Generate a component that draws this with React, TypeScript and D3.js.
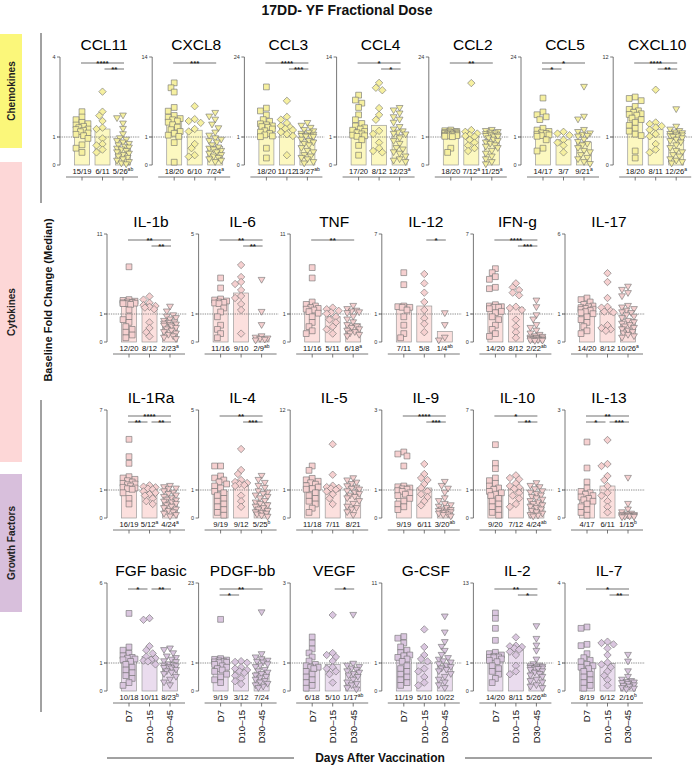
import React from "react";
import * as d3 from "d3";

// ---------- DATA ----------
const GROUPS = ["D7", "D10–15", "D30–45"];

// Chemokines
const ccl11_d7 = [1.95,1.75,1.65,1.55,1.5,1.45,1.4,1.35,1.3,1.28,1.25,1.2,1.15,1.1,1.05,0.95,0.72,0.6,0.45];
const ccl11_d10 = [2.7,1.95,1.8,1.6,1.35,1.3,0.95,0.75,0.7,0.55,0.45];
const ccl11_d30 = [1.8,1.7,1.5,1.3,1.1,0.95,0.9,0.85,0.8,0.75,0.7,0.65,0.62,0.58,0.55,0.5,0.45,0.4,0.35,0.3,0.25,0.2,0.15,0.1,0.05,0.02];
const ccl11_labels = ["15/19", "6/11", "5/26^ab"];

const cxcl8_d7 = [9.8,9.0,8.3,5.8,5.2,4.5,4.2,4.0,3.8,3.6,3.4,3.0,2.6,2.2,1.9,1.6,1.3,1.1,0.8,0.1];
const cxcl8_d10 = [6.0,3.9,3.6,3.3,2.3,1.9,0.75,0.6,0.35,0.3];
const cxcl8_d30 = [4.9,4.3,3.8,3.0,2.4,1.7,1.2,0.95,0.9,0.85,0.8,0.7,0.62,0.58,0.55,0.5,0.45,0.4,0.35,0.3,0.25,0.2,0.15,0.1];
const cxcl8_labels = ["18/20", "6/10", "7/24^a"];

const ccl3_d7 = [15.4,9.3,8.5,7.3,6.0,5.5,4.8,4.5,4.2,4.0,3.8,3.3,2.8,2.4,2.0,1.6,1.3,1.1,0.6,0.25];
const ccl3_d10 = [11.4,6.8,6.0,5.0,4.2,3.8,3.4,3.0,2.4,1.8,1.3,0.35];
const ccl3_d30 = [5.0,4.2,3.6,3.0,2.6,2.2,1.9,1.6,1.4,1.25,1.15,1.08,1.02,0.9,0.85,0.8,0.75,0.7,0.6,0.5,0.45,0.35,0.3,0.25,0.2,0.1,0.05];
const ccl3_labels = ["18/20", "11/12", "13/27^ab"];

const ccl4_d7 = [7.8,7.0,6.5,5.8,4.6,3.8,3.2,2.8,2.5,2.3,2.1,1.9,1.7,1.5,1.3,1.2,1.1,0.9,0.7,0.35];
const ccl4_d10 = [9.8,9.0,8.6,5.7,4.6,3.8,2.0,1.5,0.8,0.6,0.5,0.45];
const ccl4_d30 = [5.7,5.3,4.8,4.2,3.8,3.3,2.6,2.2,1.9,1.7,1.5,1.4,0.95,0.85,0.75,0.6,0.55,0.45,0.4,0.3,0.2,0.15,0.1];
const ccl4_labels = ["17/20", "8/12", "12/23^a"];

const ccl2_d7 = [3.0,2.8,2.6,2.5,2.4,2.3,2.2,2.1,2.0,1.9,1.8,1.7,1.6,1.5,1.4,1.3,1.2,1.1,0.6,0.45];
const ccl2_d10 = [16.5,3.0,2.5,2.0,1.6,1.3,1.1,0.9,0.8,0.7,0.6,0.5];
const ccl2_d30 = [3.0,2.7,2.4,2.2,2.0,1.8,1.6,1.4,1.25,1.1,1.05,0.95,0.9,0.85,0.8,0.75,0.7,0.65,0.6,0.5,0.4,0.3,0.2,0.1,0.02];
const ccl2_labels = ["18/20", "7/12^a", "11/25^a"];

const ccl5_d7 = [12.2,8.2,7.4,6.8,6.0,3.5,3.0,2.6,2.2,2.0,1.8,1.6,1.4,1.2,0.9,0.6,0.5];
const ccl5_d10 = [2.5,2.0,1.5,0.9,0.8,0.7,0.45];
const ccl5_d30 = [15.4,6.8,6.0,3.0,2.4,2.0,1.6,1.3,1.1,0.9,0.82,0.75,0.7,0.6,0.5,0.45,0.35,0.25,0.2,0.1,0.03];
const ccl5_labels = ["14/17", "3/7", "9/21^a"];

const cxcl10_d7 = [6.5,6.3,6.0,5.2,4.8,4.6,4.4,4.2,4.1,4.0,3.6,3.4,3.0,2.6,2.2,1.8,1.4,1.2,0.5,0.25];
const cxcl10_d10 = [7.5,3.0,2.8,2.5,2.3,2.0,1.4,1.1,0.75,0.55,0.45];
const cxcl10_d30 = [4.8,2.4,2.0,1.8,1.6,1.5,1.4,1.3,1.2,1.1,1.05,1.02,0.95,0.9,0.85,0.8,0.7,0.6,0.5,0.45,0.35,0.3,0.2,0.15,0.1,0.05];
const cxcl10_labels = ["18/20", "8/11", "12/26^a"];

// Cytokines (row A)
const il1b_d7 = [6.9,2.8,2.7,2.6,2.5,2.45,2.4,2.35,2.3,2.3,2.2,1.5,0.9,0.8,0.7,0.55,0.45,0.35,0.25,0.15];
const il1b_d10 = [3.2,2.8,2.4,2.1,2.0,1.9,1.8,1.6,0.7,0.5,0.35,0.2];
const il1b_d30 = [1.9,1.3,0.95,0.9,0.85,0.8,0.75,0.7,0.68,0.65,0.62,0.6,0.58,0.55,0.5,0.45,0.4,0.35,0.3,0.25,0.2,0.15,0.1];
const il1b_labels = ["12/20", "8/12", "2/23^a"];

const il6_d7 = [2.8,2.3,1.75,1.7,1.65,1.6,1.58,1.55,1.52,1.3,1.1,0.9,0.6,0.45,0.3,0.15];
const il6_d10 = [3.45,2.85,2.6,2.5,2.2,1.9,1.8,1.5,1.2,0.3];
const il6_d30 = [2.7,1.1,0.6,0.2,0.15,0.12,0.1,0.08,0.05];
const il6_labels = ["11/16", "9/10", "2/9^ab"];

const tnf_d7 = [6.8,5.5,2.5,2.2,2.0,1.8,1.7,1.6,1.5,1.3,1.1,0.9,0.7,0.55,0.4,0.3];
const tnf_d10 = [1.8,1.6,1.4,1.2,1.05,0.9,0.8,0.7,0.55,0.45,0.3];
const tnf_d30 = [2.0,1.6,1.4,1.3,1.2,1.1,0.9,0.8,0.7,0.6,0.55,0.5,0.45,0.4,0.35,0.3,0.25,0.2];
const tnf_labels = ["11/16", "5/11", "6/18^a"];

const il12_d7 = [4.1,3.2,1.6,1.55,1.5,1.5,1.3,0.9,0.6,0.3,0.15];
const il12_d10 = [4.0,3.3,2.6,1.9,1.3,0.85,0.65,0.35];
const il12_d30 = [1.05,0.6,0.15,0.05];
const il12_labels = ["7/11", "5/8", "1/4^ab"];

const ifng_d7 = [4.4,4.1,3.8,3.6,3.0,2.9,1.7,1.6,1.55,1.5,1.5,1.4,1.2,1.1,0.9,0.8,0.6,0.45,0.3,0.2];
const ifng_d10 = [3.3,3.0,2.8,2.6,2.4,1.55,1.45,1.3,0.8,0.55,0.35,0.15];
const ifng_d30 = [2.0,1.5,0.95,0.8,0.6,0.5,0.4,0.3,0.25,0.2,0.18,0.15,0.14,0.12,0.1,0.09,0.08,0.07,0.06,0.05,0.04,0.03];
const ifng_labels = ["14/20", "8/12", "2/22^ab"];

const il17_d7 = [2.0,1.9,1.75,1.6,1.5,1.45,1.4,1.35,1.3,1.28,1.22,1.15,1.08,1.02,0.9,0.8,0.7,0.55,0.4,0.3];
const il17_d10 = [3.55,3.0,2.0,1.45,1.4,1.2,1.15,1.1,0.6,0.5,0.45,0.4];
const il17_d30 = [2.7,2.5,2.3,2.1,1.5,1.4,1.3,1.2,1.1,1.05,0.95,0.9,0.85,0.75,0.7,0.65,0.6,0.55,0.5,0.45,0.4,0.35,0.3,0.25,0.2,0.15];
const il17_labels = ["14/20", "8/12", "10/26^a"];

// Cytokines (row B)
const il1ra_d7 = [4.8,3.5,3.0,2.0,1.9,1.8,1.7,1.6,1.5,1.45,1.4,1.3,1.2,1.15,1.1,1.05,0.9,0.7,0.5];
const il1ra_d10 = [1.35,1.25,1.2,1.1,1.05,0.95,0.9,0.85,0.8,0.7,0.6,0.5];
const il1ra_d30 = [1.3,1.2,1.1,1.05,0.95,0.9,0.85,0.8,0.75,0.7,0.65,0.62,0.58,0.55,0.5,0.45,0.4,0.35,0.3,0.25,0.2,0.15,0.1,0.05];
const il1ra_labels = ["16/19", "5/12^a", "4/24^a"];

const il4_d7 = [2.2,2.2,1.7,1.6,1.5,1.4,1.3,1.2,1.1,0.95,0.9,0.8,0.7,0.6,0.5,0.4,0.3,0.2,0.1];
const il4_d10 = [3.05,2.0,1.8,1.5,1.4,1.35,1.3,1.25,1.2,0.8,0.6,0.4];
const il4_d30 = [1.7,1.5,1.35,1.2,1.1,0.95,0.9,0.85,0.8,0.75,0.7,0.6,0.55,0.5,0.45,0.4,0.35,0.3,0.25,0.2,0.18,0.15,0.12,0.08,0.04];
const il4_labels = ["9/19", "9/12", "5/25^b"];

const il5_d7 = [4.3,3.7,2.6,2.4,2.2,2.0,1.8,1.6,1.4,1.2,1.1,0.9,0.8,0.7,0.6,0.5,0.35,0.2];
const il5_d10 = [7.3,3.1,1.6,1.4,1.3,1.2,1.05,0.95,0.85,0.7,0.5];
const il5_d30 = [2.6,2.3,2.0,1.8,1.5,1.3,1.15,1.05,0.95,0.9,0.85,0.8,0.75,0.7,0.6,0.5,0.4,0.35,0.3,0.2,0.1];
const il5_labels = ["11/18", "7/11", "8/21"];

const il9_d7 = [1.95,1.9,1.85,1.6,1.1,1.08,1.05,1.03,1.02,0.98,0.95,0.9,0.85,0.8,0.7,0.6,0.5,0.4,0.3];
const il9_d10 = [1.65,1.4,1.3,1.25,1.15,1.05,0.95,0.85,0.75,0.6,0.45];
const il9_d30 = [1.2,1.1,1.03,0.9,0.7,0.6,0.5,0.45,0.4,0.35,0.3,0.28,0.25,0.22,0.2,0.18,0.15,0.12,0.1,0.05];
const il9_labels = ["9/19", "6/11", "3/20^ab"];

const il10_d7 = [4.4,3.0,2.6,1.9,1.7,1.5,1.3,1.15,1.05,0.95,0.9,0.85,0.8,0.7,0.6,0.5,0.4,0.3,0.2,0.1];
const il10_d10 = [2.1,1.9,1.8,1.5,1.3,1.2,1.1,0.9,0.8,0.7,0.5,0.4];
const il10_d30 = [1.5,1.3,1.2,1.05,0.95,0.9,0.85,0.8,0.75,0.7,0.65,0.6,0.55,0.5,0.45,0.4,0.35,0.3,0.25,0.2,0.15,0.1,0.08,0.05];
const il10_labels = ["9/20", "7/12", "4/24^ab"];

const il13_d7 = [2.2,1.55,1.2,1.05,0.95,0.9,0.85,0.8,0.75,0.7,0.65,0.6,0.5,0.4,0.3,0.2,0.1];
const il13_d10 = [2.25,1.65,1.6,1.35,1.25,1.1,0.9,0.8,0.6,0.4,0.2];
const il13_d30 = [1.3,0.5,0.3,0.2,0.15,0.12,0.1,0.1,0.08,0.07,0.06,0.05,0.04,0.03,0.02];
const il13_labels = ["4/17", "6/11", "1/15^b"];

// Growth factors
const fgf_d7 = [4.1,2.0,1.8,1.6,1.45,1.35,1.3,1.25,1.2,1.1,0.95,0.85,0.75,0.65,0.55,0.45,0.3,0.2];
const fgf_d10 = [3.8,3.7,2.05,1.8,1.6,1.4,1.3,1.2,1.15,1.1,0.95];
const fgf_d30 = [1.9,1.8,1.6,1.4,1.3,1.2,1.1,1.05,0.95,0.92,0.9,0.88,0.85,0.82,0.8,0.75,0.7,0.65,0.6,0.5,0.4,0.3,0.2];
const fgf_labels = ["10/18", "10/11", "8/23^b"];

const pdgf_d7 = [13,2.2,2.0,1.8,1.6,1.4,1.3,1.2,1.1,0.95,0.9,0.85,0.8,0.75,0.7,0.6,0.5,0.4,0.3];
const pdgf_d10 = [1.5,1.3,1.1,0.85,0.8,0.75,0.7,0.65,0.55,0.45,0.35,0.25];
const pdgf_d30 = [14.9,3.4,2.5,2.0,1.6,1.3,1.1,0.95,0.9,0.85,0.75,0.7,0.65,0.6,0.55,0.5,0.45,0.4,0.35,0.3,0.25,0.2,0.15,0.1];
const pdgf_labels = ["9/19", "3/12", "7/24"];

const vegf_d7 = [1.65,1.5,1.35,1.25,1.15,1.05,0.95,0.9,0.85,0.85,0.8,0.7,0.6,0.5,0.4,0.3,0.2,0.1];
const vegf_d10 = [2.2,1.25,1.2,1.15,1.05,0.85,0.8,0.7,0.6,0.3];
const vegf_d30 = [2.2,0.97,0.9,0.85,0.8,0.75,0.7,0.65,0.6,0.55,0.5,0.4,0.3,0.25,0.2,0.1,0.05];
const vegf_labels = ["6/18", "5/10", "1/17^ab"];

const gcsf_d7 = [4.3,4.1,3.5,3.0,2.6,2.3,2.0,1.9,1.7,1.5,1.2,0.9,0.8,0.7,0.6,0.5,0.4,0.3,0.2];
const gcsf_d10 = [5.2,3.0,2.0,1.5,1.2,0.8,0.7,0.5,0.3,0.2];
const gcsf_d30 = [6.8,4.8,3.6,3.0,2.5,2.0,1.6,1.4,1.2,1.05,0.95,0.9,0.85,0.8,0.75,0.7,0.6,0.5,0.4,0.3,0.2,0.1];
const gcsf_labels = ["11/19", "5/10", "10/22"];

const il2_d7 = [8.5,7.7,6.2,4.4,2.6,2.4,2.2,2.0,1.9,1.85,1.8,1.6,1.4,1.2,0.9,0.8,0.7,0.6,0.45,0.3];
const il2_d10 = [4.85,3.6,3.5,3.4,3.2,3.0,2.7,2.2,0.9,0.7,0.6];
const il2_d30 = [6.5,4.6,3.6,2.8,1.5,0.95,0.9,0.88,0.86,0.84,0.82,0.8,0.8,0.78,0.75,0.7,0.65,0.6,0.55,0.5,0.4,0.35,0.3,0.2,0.15,0.1];
const il2_labels = ["14/20", "8/11", "5/26^ab"];

const il7_d7 = [2.35,2.3,1.7,1.65,1.35,1.2,1.1,1.05,0.95,0.9,0.85,0.8,0.7,0.6,0.5,0.4,0.3,0.2,0.1];
const il7_d10 = [1.8,1.75,1.7,1.55,1.3,1.02,0.95,0.85,0.7,0.55,0.4,0.2];
const il7_d30 = [1.3,1.05,0.7,0.5,0.4,0.35,0.32,0.3,0.28,0.25,0.2,0.18,0.15,0.1,0.08,0.05];
const il7_labels = ["8/19", "6/12", "2/16^b"];

// ---------- TABLES ----------
type Sig = { a: number; b: number; s: string; lv: number };
type PanelDef = { name: string; max: number; vals: number[][]; labels: string[]; sig: Sig[] };
const sg = (a: number, b: number, s: string, lv: number): Sig => ({ a, b, s, lv });

const rowChem: PanelDef[] = [
  { name: "CCL11", max: 4, vals: [ccl11_d7, ccl11_d10, ccl11_d30], labels: ccl11_labels, sig: [sg(0, 2, "****", 0), sg(1, 2, "**", 1)] },
  { name: "CXCL8", max: 14, vals: [cxcl8_d7, cxcl8_d10, cxcl8_d30], labels: cxcl8_labels, sig: [sg(0, 2, "***", 0)] },
  { name: "CCL3", max: 24, vals: [ccl3_d7, ccl3_d10, ccl3_d30], labels: ccl3_labels, sig: [sg(0, 2, "****", 0), sg(1, 2, "***", 1)] },
  { name: "CCL4", max: 14, vals: [ccl4_d7, ccl4_d10, ccl4_d30], labels: ccl4_labels, sig: [sg(0, 2, "*", 0), sg(1, 2, "*", 1)] },
  { name: "CCL2", max: 24, vals: [ccl2_d7, ccl2_d10, ccl2_d30], labels: ccl2_labels, sig: [sg(0, 2, "**", 0)] },
  { name: "CCL5", max: 24, vals: [ccl5_d7, ccl5_d10, ccl5_d30], labels: ccl5_labels, sig: [sg(0, 2, "*", 0), sg(0, 1, "*", 1)] },
  { name: "CXCL10", max: 12, vals: [cxcl10_d7, cxcl10_d10, cxcl10_d30], labels: cxcl10_labels, sig: [sg(0, 2, "****", 0), sg(1, 2, "**", 1)] },
];
const rowCytA: PanelDef[] = [
  { name: "IL-1b", max: 11, vals: [il1b_d7, il1b_d10, il1b_d30], labels: il1b_labels, sig: [sg(0, 2, "**", 0), sg(1, 2, "**", 1)] },
  { name: "IL-6", max: 5, vals: [il6_d7, il6_d10, il6_d30], labels: il6_labels, sig: [sg(0, 2, "**", 0), sg(1, 2, "**", 1)] },
  { name: "TNF", max: 11, vals: [tnf_d7, tnf_d10, tnf_d30], labels: tnf_labels, sig: [sg(0, 2, "**", 0)] },
  { name: "IL-12", max: 7, vals: [il12_d7, il12_d10, il12_d30], labels: il12_labels, sig: [sg(1, 2, "*", 0)] },
  { name: "IFN-g", max: 7, vals: [ifng_d7, ifng_d10, ifng_d30], labels: ifng_labels, sig: [sg(0, 2, "****", 0), sg(1, 2, "***", 1)] },
  { name: "IL-17", max: 6, vals: [il17_d7, il17_d10, il17_d30], labels: il17_labels, sig: [] },
];
const rowCytB: PanelDef[] = [
  { name: "IL-1Ra", max: 7, vals: [il1ra_d7, il1ra_d10, il1ra_d30], labels: il1ra_labels, sig: [sg(0, 2, "****", 0), sg(0, 1, "**", 1), sg(1, 2, "**", 1)] },
  { name: "IL-4", max: 5, vals: [il4_d7, il4_d10, il4_d30], labels: il4_labels, sig: [sg(0, 2, "**", 0), sg(1, 2, "***", 1)] },
  { name: "IL-5", max: 12, vals: [il5_d7, il5_d10, il5_d30], labels: il5_labels, sig: [] },
  { name: "IL-9", max: 3, vals: [il9_d7, il9_d10, il9_d30], labels: il9_labels, sig: [sg(0, 2, "****", 0), sg(1, 2, "***", 1)] },
  { name: "IL-10", max: 7, vals: [il10_d7, il10_d10, il10_d30], labels: il10_labels, sig: [sg(0, 2, "*", 0), sg(1, 2, "**", 1)] },
  { name: "IL-13", max: 3, vals: [il13_d7, il13_d10, il13_d30], labels: il13_labels, sig: [sg(0, 2, "**", 0), sg(0, 1, "*", 1), sg(1, 2, "***", 1)] },
];
const rowGF: PanelDef[] = [
  { name: "FGF basic", max: 6, vals: [fgf_d7, fgf_d10, fgf_d30], labels: fgf_labels, sig: [sg(0, 1, "*", 0), sg(1, 2, "**", 0)] },
  { name: "PDGF-bb", max: 23, vals: [pdgf_d7, pdgf_d10, pdgf_d30], labels: pdgf_labels, sig: [sg(0, 2, "**", 0), sg(0, 1, "*", 1)] },
  { name: "VEGF", max: 3, vals: [vegf_d7, vegf_d10, vegf_d30], labels: vegf_labels, sig: [sg(1, 2, "*", 0)] },
  { name: "G-CSF", max: 11, vals: [gcsf_d7, gcsf_d10, gcsf_d30], labels: gcsf_labels, sig: [] },
  { name: "IL-2", max: 13, vals: [il2_d7, il2_d10, il2_d30], labels: il2_labels, sig: [sg(0, 2, "**", 0), sg(1, 2, "*", 1)] },
  { name: "IL-7", max: 4, vals: [il7_d7, il7_d10, il7_d30], labels: il7_labels, sig: [sg(0, 2, "*", 0), sg(1, 2, "**", 1)] },
];

const THEMES = {
  chem: { bar: "#fcf8c0", pt: "#f6f0a0", box: "#fbf77a" },
  cyt: { bar: "#fce0de", pt: "#f6d0d0", box: "#fdd7d7" },
  gf: { bar: "#eadcee", pt: "#dac6df", box: "#d8bfdc" },
};

const ROWS = [
  { panels: rowChem, top: 57, x0: 60, step: 92.2, theme: THEMES.chem, xlabels: false },
  { panels: rowCytA, top: 234, x0: 107, step: 91.6, theme: THEMES.cyt, xlabels: false },
  { panels: rowCytB, top: 410, x0: 107, step: 91.6, theme: THEMES.cyt, xlabels: false },
  { panels: rowGF, top: 583, x0: 107, step: 91.6, theme: THEMES.gf, xlabels: true },
];

const FONT = "'Liberation Sans', Arial, Helvetica, sans-serif";
const W = 692, H = 774;

function swarm(ys: number[], r: number): number[] {
  const idx = ys.map((_, i) => i).sort((a, b) => ys[a] - ys[b]);
  const placed: [number, number][] = [];
  const out = new Array(ys.length).fill(0);
  const cands = [0, -3.2, 3.2, -6, 6, -1.6, 1.6, -4.6, 4.6];
  for (const i of idx) {
    let best = 0, bestS = Infinity;
    for (const c of cands) {
      let s = 0;
      for (const [px, py] of placed) {
        const d = Math.hypot(px - c, py - ys[i]);
        if (d < 2 * r) s += 2 * r - d;
      }
      if (s < bestS) { bestS = s; best = c; }
      if (s === 0) break;
    }
    out[i] = best;
    placed.push([best, ys[i]]);
  }
  return out;
}

function shapePath(g: number, cx: number, cy: number): string {
  if (g === 0) {
    const s = 2.9;
    return `M${cx - s},${cy - s}H${cx + s}V${cy + s}H${cx - s}Z`;
  }
  if (g === 1) {
    const s = 3.7;
    return `M${cx},${cy - s}L${cx + s},${cy}L${cx},${cy + s}L${cx - s},${cy}Z`;
  }
  return `M${cx - 3.4},${cy - 2.6}L${cx + 3.4},${cy - 2.6}L${cx},${cy + 3.2}Z`;
}

function Label({ x, y, text }: { x: number; y: number; text: string }) {
  const [main, sup] = text.split("^");
  return (
    <text x={x} y={y} fontSize={7.6} textAnchor="middle" fill="#111" fontFamily={FONT}>
      {main}
      {sup ? <tspan fontSize={5} dy={-2.8}>{sup}</tspan> : null}
    </text>
  );
}

function Panel({ p, ax, top, theme, xlabels, rightLimit }: any) {
  const one = top + 80;
  const zero = top + 108;
  const y = d3.scaleLinear().domain([0, 1, p.max]).range([zero, one, top]);
  const gx = d3.scalePoint<string>().domain(GROUPS).range([ax + 22, ax + 63]);
  const bw = 15;
  const ticks = [0, 1, p.max];
  const dashEnd = Math.min(ax + 80, rightLimit);
  return (
    <g>
      <text x={ax + 44} y={top - 7} fontSize={15.5} textAnchor="middle" fontFamily={FONT} fill="#000">{p.name}</text>
      {GROUPS.map((g, gi) => {
        const med = d3.median(p.vals[gi] as number[]) as number;
        const cx = gx(g)!;
        return (
          <rect key={g} x={cx - bw / 2} y={y(med)} width={bw} height={zero - y(med)}
            fill={theme.bar} stroke="#9b9b9b" strokeWidth={0.7} />
        );
      })}
      <line x1={ax - 3} x2={dashEnd} y1={y(1)} y2={y(1)} stroke="#6f6f6f" strokeWidth={0.8} strokeDasharray="1.3,1" />
      {GROUPS.map((g, gi) => {
        const ys = (p.vals[gi] as number[]).map((v) => y(v));
        const offs = swarm(ys, 2.5);
        const cx = gx(g)!;
        return (
          <g key={g}>
            {ys.map((yy, i) => (
              <path key={i} d={shapePath(gi, cx + offs[i], yy)} fill={theme.pt} stroke="#6e6e6e" strokeWidth={0.6} />
            ))}
          </g>
        );
      })}
      <line x1={ax} x2={ax} y1={top} y2={zero} stroke="#555" strokeWidth={0.8} />
      {ticks.map((t) => (
        <g key={t}>
          <line x1={ax - 3} x2={ax} y1={y(t)} y2={y(t)} stroke="#555" strokeWidth={0.8} />
          <text x={ax - 4.5} y={y(t)} dy="0.35em" fontSize={5.5} textAnchor="end" fill="#333" fontFamily={FONT}>{t}</text>
        </g>
      ))}
      {p.sig.map((s: Sig, i: number) => {
        const ly = top + 6 + s.lv * 6;
        const x1 = gx(GROUPS[s.a])! - 1 + (s.a === 1 ? 3 : 0);
        const x2 = gx(GROUPS[s.b])! + 1 - (s.b === 1 ? 3 : 0);
        return (
          <g key={i}>
            <line x1={x1} x2={x2} y1={ly} y2={ly} stroke="#333" strokeWidth={0.7} />
            <text x={(x1 + x2) / 2} y={ly + 3.4} fontSize={8} fontWeight="bold" textAnchor="middle" fill="#222" fontFamily={FONT}>{s.s}</text>
          </g>
        );
      })}
      {GROUPS.map((g, gi) => (
        <Label key={g} x={gx(g)!} y={zero + 8.5} text={p.labels[gi]} />
      ))}
      <line x1={ax + 6} x2={ax + 78} y1={zero + 12} y2={zero + 12} stroke="#555" strokeWidth={0.8} />
      {GROUPS.map((g) => (
        <line key={g} x1={gx(g)!} x2={gx(g)!} y1={zero + 12} y2={zero + 15.5} stroke="#555" strokeWidth={0.8} />
      ))}
      {xlabels && GROUPS.map((g) => (
        <text key={g} transform={`translate(${gx(g)! + 3.4},${zero + 19}) rotate(-90)`} fontSize={9.5} textAnchor="end" fill="#111" fontFamily={FONT}>{g}</text>
      ))}
    </g>
  );
}

export default function App() {
  return (
    <div style={{ position: "absolute", left: 0, top: 0 }}>
      <svg width={W} height={H} viewBox={`0 0 ${W} ${H}`} style={{ display: "block", background: "#fff" }}>
        <rect x={0} y={0} width={W} height={H} fill="#fff" />
        <text x={347} y={15} fontSize={14} fontWeight="bold" textAnchor="middle" fontFamily={FONT} fill="#111">17DD- YF Fractional Dose</text>

        <rect x={0} y={34} width={22} height={114} fill={THEMES.chem.box} />
        <text transform="translate(14.5,91) rotate(-90)" fontSize={10} fontWeight="bold" textAnchor="middle" fontFamily={FONT} fill="#222">Chemokines</text>
        <rect x={0} y={162} width={22} height={300} fill={THEMES.cyt.box} />
        <text transform="translate(14.5,312) rotate(-90)" fontSize={10} fontWeight="bold" textAnchor="middle" fontFamily={FONT} fill="#222">Cytokines</text>
        <rect x={0} y={474} width={22} height={138} fill={THEMES.gf.box} />
        <text transform="translate(14.5,543) rotate(-90)" fontSize={10} fontWeight="bold" textAnchor="middle" fontFamily={FONT} fill="#222">Growth Factors</text>

        <line x1={41} x2={41} y1={33} y2={203} stroke="#444" strokeWidth={1} />
        <line x1={41} x2={41} y1={400} y2={712} stroke="#444" strokeWidth={1} />
        <text transform="translate(52,300) rotate(-90)" fontSize={11} fontWeight="bold" textAnchor="middle" fontFamily={FONT} fill="#111">Baseline Fold Change (Median)</text>

        {ROWS.map((row, ri) => (
          <g key={ri}>
            {row.panels.map((p, pi) => (
              <Panel key={p.name} p={p} ax={row.x0 + pi * row.step} top={row.top} theme={row.theme} xlabels={row.xlabels} rightLimit={W} />
            ))}
          </g>
        ))}

        <line x1={107} x2={294} y1={758} y2={758} stroke="#444" strokeWidth={1} />
        <line x1={465} x2={652} y1={758} y2={758} stroke="#444" strokeWidth={1} />
        <text x={380} y={762} fontSize={12} fontWeight="bold" textAnchor="middle" fontFamily={FONT} fill="#111">Days After Vaccination</text>
      </svg>
    </div>
  );
}
